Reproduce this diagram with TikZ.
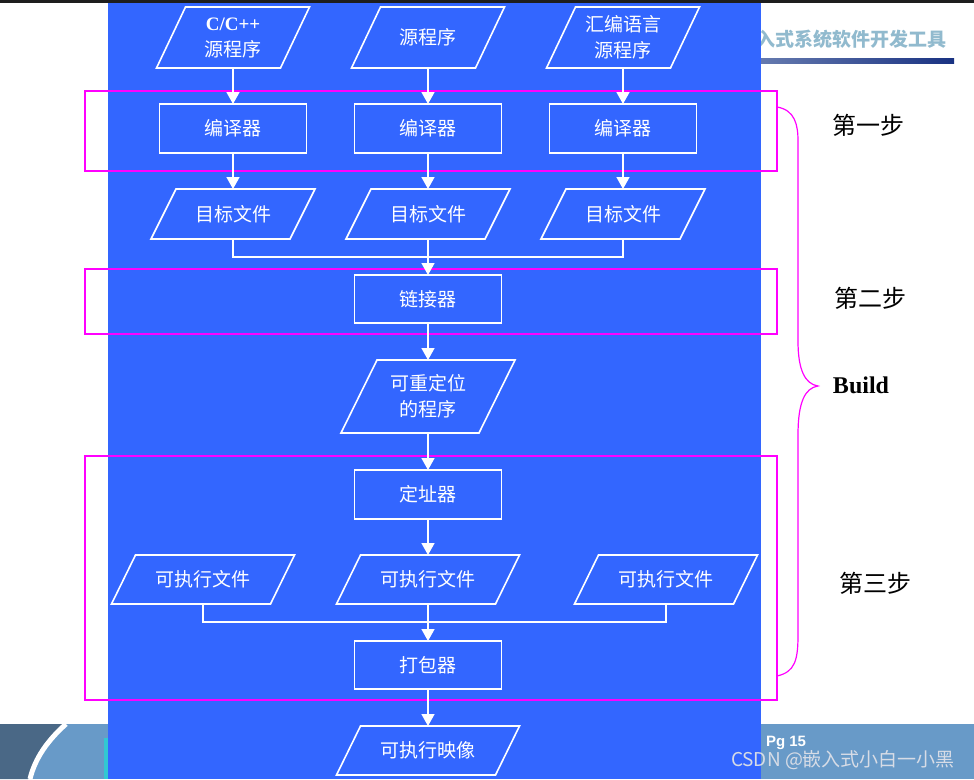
\documentclass[tikz,border=0pt]{standalone}
\usepackage{fontspec}
\setmainfont{Liberation Serif}
\newfontfamily\cjk{Noto Sans CJK SC}
\newfontfamily\lsans{Liberation Sans}
\usetikzlibrary{arrows.meta,calc}
\definecolor{bgblue}{RGB}{51,102,255}
\definecolor{magline}{RGB}{255,0,255}
\definecolor{bandblue}{RGB}{104,154,200}
\definecolor{texblue}{RGB}{74,104,134}
\definecolor{tealstrip}{RGB}{50,200,210}
\definecolor{headgray}{RGB}{145,186,206}
\definecolor{barL}{RGB}{110,130,180}
\definecolor{barR}{RGB}{25,50,130}
\definecolor{topbar}{RGB}{30,30,30}
\definecolor{wmark}{RGB}{215,220,230}
\newcommand\pnode[7]{%
  \node[ptext, minimum height={2*#5pt}] (#1) at (#2,#3) {#7};
  \draw[wline] ($(#1.center)+({-#4-#6},#5)$) -- ($(#1.center)+({#4-#6},#5)$)
    -- ($(#1.center)+({#4+#6},-#5)$) -- ($(#1.center)+({-#4+#6},-#5)$) -- cycle;
}
\begin{document}
\begin{tikzpicture}[x=1pt,y=-1pt,
  wline/.style={white, line width=1.6pt},
  arr/.style={wline, -{Triangle[width=13pt,length=12pt]}},
  boxn/.style={draw=white, line width=1.6pt, minimum width=147pt, minimum height=49pt,
    inner sep=0pt, outer sep=0pt, text=white, font=\cjk\fontsize{19}{24}\selectfont},
  ptext/.style={inner sep=0pt, outer sep=0pt, text=white, align=center,
    font=\cjk\fontsize{19}{26}\selectfont},
  mag/.style={draw=magline, line width=1.3pt},
  steplabel/.style={font=\cjk\fontsize{24}{28}\selectfont, text=black},
]
\useasboundingbox (0,0) rectangle (974,779);
\fill[white] (0,0) rectangle (974,779);
\fill[topbar] (0,0) rectangle (974,3);
% heading (mostly hidden behind blue panel)
\node[anchor=east, text=headgray, font=\cjk\bfseries\fontsize{19}{22}\selectfont] (head) at (950,39) {嵌入式系统软件开发工具};
\shade[left color=barL, right color=barR] (740,58) rectangle (954,63);
% bottom band
\fill[bandblue] (0,724) rectangle (974,779);
\fill[texblue] (0,724) -- (64,724) .. controls (46,740) and (33,758) .. (28,779) -- (0,779) -- cycle;
\draw[white, line width=5pt] (66,724) .. controls (48,740) and (35,758) .. (30,779);
\fill[tealstrip] (104,738) rectangle (108,779);
% blue panel
\fill[bgblue] (108,3) rectangle (761,779);
% magenta step frames
\draw[mag] (85,91) rectangle (777,171);
\draw[mag] (85,269) rectangle (777,334);
\draw[mag] (85,456) rectangle (777,700);
% brace
\draw[magline, line width=1.2pt] (777,107) .. controls (795,110) and (798,125) .. (798,141) -- (798,341)
  .. controls (798,370) and (805,384) .. (818,386) .. controls (805,388) and (798,402) .. (798,435)
  -- (798,635) .. controls (798,660) and (795,672) .. (777,676);
% row 1: sources
\pnode{s1}{233}{37.5}{62}{30.5}{14.5}{{\rmfamily\bfseries C/C++}\\源程序}
\pnode{s2}{428}{37.5}{62}{30.5}{14.5}{源程序}
\pnode{s3}{623}{37.5}{62}{30.5}{14.5}{汇编语言\\源程序}
% compilers
\node[boxn] (c1) at (233,128.5) {编译器};
\node[boxn] (c2) at (428,128.5) {编译器};
\node[boxn] (c3) at (623,128.5) {编译器};
% object files
\pnode{o1}{233}{214}{69.5}{25}{12.5}{目标文件}
\pnode{o2}{428}{214}{69.5}{25}{12.5}{目标文件}
\pnode{o3}{623}{214}{69.5}{25}{12.5}{目标文件}
% linker
\node[boxn, minimum height=48pt] (lk) at (428,299) {链接器};
% relocatable
\pnode{rl}{428}{396.5}{69}{36.5}{18}{可重定位\\的程序}
% locator
\node[boxn] (lc) at (428,494.5) {定址器};
% executables
\pnode{e1}{203}{579.5}{79.5}{24.5}{12}{可执行文件}
\pnode{e2}{428}{579.5}{79.5}{24.5}{12}{可执行文件}
\pnode{e3}{666}{579.5}{79.5}{24.5}{12}{可执行文件}
% packer
\node[boxn, minimum height=48pt] (pk) at (428,665) {打包器};
% image
\pnode{im}{428}{750.5}{79.5}{24.5}{12}{可执行映像}
% junctions
\coordinate (j1) at (428,257);
\coordinate (j2) at (428,622);
% connectors
\draw[arr] (s1.south) -- (c1.north);
\draw[arr] (s2.south) -- (c2.north);
\draw[arr] (s3.south) -- (c3.north);
\draw[arr] (c1.south) -- (o1.north);
\draw[arr] (c2.south) -- (o2.north);
\draw[arr] (c3.south) -- (o3.north);
\draw[wline] (o1.south) |- (j1);
\draw[wline] (o3.south) |- (j1);
\draw[arr] (o2.south) -- (lk.north);
\draw[arr] (lk.south) -- (rl.north);
\draw[arr] (rl.south) -- (lc.north);
\draw[arr] (lc.south) -- (e2.north);
\draw[wline] (e1.south) |- (j2);
\draw[wline] (e3.south) |- (j2);
\draw[arr] (e2.south) -- (pk.north);
\draw[arr] (pk.south) -- (im.north);
% step labels
\node[steplabel] (st1) at (868,125) {第一步};
\node[steplabel] (st2) at (870,298) {第二步};
\node[font=\bfseries\fontsize{24}{28}\selectfont, text=black] (bld) at (861,385) {Build};
\node[steplabel] (st3) at (875,583) {第三步};
% footer texts
\node[text=white, font=\lsans\bfseries\fontsize{15}{18}\selectfont] (pg) at (786,743) {Pg 15};
\node[text=wmark, font=\cjk\fontsize{19}{22}\selectfont] (wm) at (843,760) {CSDN @嵌入式小白一小黑};
\end{tikzpicture}
\end{document}
